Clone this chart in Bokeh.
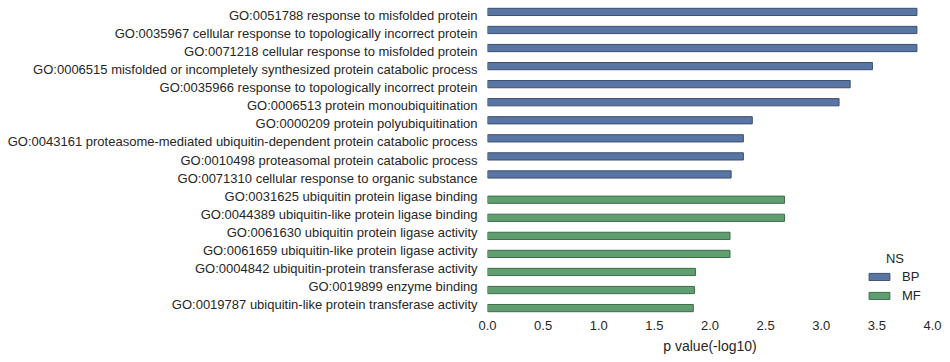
from bokeh.plotting import figure
from bokeh.models import (Range1d, FixedTicker, PrintfTickFormatter, Legend, LegendItem,
                          Label, ColumnDataSource)
from bokeh.embed import file_html
from bokeh.resources import INLINE

# ---- data ----
go_terms = [
    "GO:0051788 response to misfolded protein",
    "GO:0035967 cellular response to topologically incorrect protein",
    "GO:0071218 cellular response to misfolded protein",
    "GO:0006515 misfolded or incompletely synthesized protein catabolic process",
    "GO:0035966 response to topologically incorrect protein",
    "GO:0006513 protein monoubiquitination",
    "GO:0000209 protein polyubiquitination",
    "GO:0043161 proteasome-mediated ubiquitin-dependent protein catabolic process",
    "GO:0010498 proteasomal protein catabolic process",
    "GO:0071310 cellular response to organic substance",
    "GO:0031625 ubiquitin protein ligase binding",
    "GO:0044389 ubiquitin-like protein ligase binding",
    "GO:0061630 ubiquitin protein ligase activity",
    "GO:0061659 ubiquitin-like protein ligase activity",
    "GO:0004842 ubiquitin-protein transferase activity",
    "GO:0019899 enzyme binding",
    "GO:0019787 ubiquitin-like protein transferase activity",
]
namespaces = ["BP"] * 10 + ["MF"] * 7
pvalues = [3.86, 3.86, 3.86, 3.46, 3.26, 3.16, 2.38, 2.30, 2.30, 2.19,
           2.67, 2.67, 2.18, 2.18, 1.87, 1.86, 1.85]
x_ticks = [0.0, 0.5, 1.0, 1.5, 2.0, 2.5, 3.0, 3.5, 4.0]
ns_levels = ["BP", "MF"]
ns_fill = {"BP": "#5975A4", "MF": "#5F9E6E"}
ns_line = {"BP": "#3C4F6E", "MF": "#3F6B4A"}
ns_offset = {"BP": -0.2, "MF": 0.2}

FONT = "Liberation Sans"
TXT = "#262626"

p = figure(width=942, height=357, output_backend="svg", toolbar_location=None,
           x_range=Range1d(0, 4.0), y_range=Range1d(16.5, -0.5),
           min_border_left=487, min_border_right=10, min_border_top=6,
           min_border_bottom=44)
p.outline_line_color = None
p.xgrid.visible = False
p.ygrid.visible = False
p.background_fill_color = "white"

renderers = {}
for ns in ns_levels:
    idx = [i for i, n in enumerate(namespaces) if n == ns]
    src = ColumnDataSource(dict(
        y=[i + ns_offset[ns] for i in idx],
        right=[pvalues[i] for i in idx],
    ))
    r = p.hbar(y="y", left=0, right="right", height=0.4, source=src,
               fill_color=ns_fill[ns], line_color=ns_line[ns], line_width=1)
    renderers[ns] = r

# y axis
p.yaxis.ticker = FixedTicker(ticks=list(range(len(go_terms))))
p.yaxis.major_label_overrides = {i: t for i, t in enumerate(go_terms)}
p.yaxis.axis_line_color = None
p.yaxis.major_tick_line_color = None
p.yaxis.minor_tick_line_color = None
p.yaxis.major_tick_out = 0
p.yaxis.major_tick_in = 0
p.yaxis.minor_tick_out = 0
p.yaxis.major_label_standoff = 10
p.yaxis.major_label_text_font = FONT
p.yaxis.major_label_text_font_size = "13px"
p.yaxis.major_label_text_color = TXT

# x axis
p.xaxis.ticker = FixedTicker(ticks=x_ticks)
p.xaxis.formatter = PrintfTickFormatter(format="%.1f")
p.xaxis.axis_line_color = None
p.xaxis.major_tick_line_color = None
p.xaxis.minor_tick_line_color = None
p.xaxis.major_tick_out = 0
p.xaxis.major_tick_in = 0
p.xaxis.minor_tick_out = 0
p.xaxis.major_label_standoff = 7
p.xaxis.major_label_text_font = FONT
p.xaxis.major_label_text_font_size = "13px"
p.xaxis.major_label_text_color = TXT
p.xaxis.axis_label = "p value(-log10)"
p.xaxis.axis_label_text_font = FONT
p.xaxis.axis_label_text_font_size = "14px"
p.xaxis.axis_label_text_font_style = "normal"
p.xaxis.axis_label_text_color = TXT
p.xaxis.axis_label_standoff = 5

legend = Legend(items=[LegendItem(label=ns, renderers=[renderers[ns]]) for ns in ns_levels],
                location=(379, 8), padding=0, margin=0, spacing=0,
                glyph_width=26, glyph_height=9, label_height=19,
                label_standoff=10, border_line_color=None, background_fill_alpha=0,
                label_text_font=FONT, label_text_font_size="13px",
                label_text_color=TXT)
p.add_layout(legend, "center")

p.add_layout(Label(x=3.663, y=13.45, text="NS", text_align="center",
                   text_baseline="middle", text_font=FONT, text_font_size="13px",
                   text_color=TXT))

open("out.html", "w").write(file_html(p, INLINE))
